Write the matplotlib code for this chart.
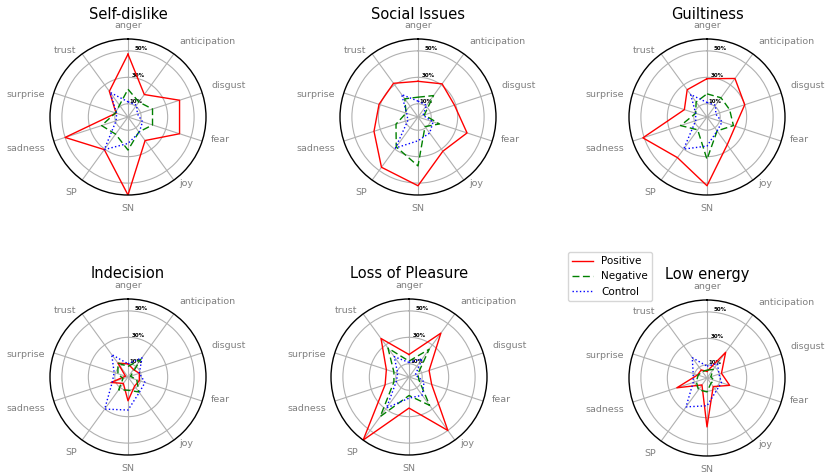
import numpy as np
import matplotlib
matplotlib.use("Agg")
import matplotlib.pyplot as plt
from matplotlib.lines import Line2D

emotions = ["anger", "anticipation", "disgust", "fear", "joy",
            "SN", "SP", "sadness", "surprise", "trust"]
symptoms = ["Self-dislike", "Social Issues", "Guiltiness",
            "Indecision", "Loss of Pleasure", "Low energy"]

# share of posts (%) per emotion, one row per symptom
positive = [
    [47.5, 21, 41, 41, 22, 59, 30.5, 50, 9.5, 24],
    [27, 31, 29, 39, 32, 52, 47, 35, 31, 31.5],
    [29, 36, 30, 22.5, 26, 52, 38, 51, 18, 25.5],
    [10, 7, 9, 9, 8.5, 18, 6, 13.5, 2, 13],
    [17, 41, 16, 18, 50, 23.5, 59, 19, 18, 36],
    [5, 24, 11.5, 18, 8, 37, 6.5, 24, 7.5, 7.5],
]
negative = [
    [21, 14, 19.5, 19.5, 14, 25, 16, 21, 10, 11],
    [15, 20, 5, 17, 9, 37, 28, 17.5, 9.5, 17],
    [17.5, 18, 18, 21, 13, 32, 12, 21, 9, 14],
    [8, 16.5, 2, 7, 14, 10, 12, 4, 8, 13],
    [12, 26, 7, 8, 26.5, 14, 37, 12, 12, 27],
    [6, 8, 3, 5.5, 5, 10.5, 11, 8.5, 7, 6],
]
control = [
    [11.5, 11, 7.5, 11.5, 14.5, 20, 30.5, 9.5, 9, 23],
    [12, 11, 4, 12, 15, 18, 29, 8, 9, 21],
    [11, 11, 7, 12, 13, 22, 30, 9, 9, 21],
    [10, 18, 9, 13.5, 14.5, 25, 30, 12.5, 11, 21],
    [11, 17, 5, 12, 17, 16, 29, 10, 9, 19],
    [9, 13.5, 9.5, 11.5, 12, 21, 27, 11, 11, 19],
]
rticks = [10, 30, 50]

W, H = 825, 476
fig = plt.figure(figsize=(W / 100, H / 100), dpi=100)

# panel centres in pixels, radius of each polar disc
centres = [(128, 117), (418, 117), (707, 117),
           (128, 377), (409, 377), (707, 378)]
R = 78

theta = np.linspace(0, 2 * np.pi, len(emotions), endpoint=False)
theta_c = np.append(theta, theta[0])
dashed = (0, (5, 2.5))

def closed(v):
    v = np.asarray(v) / 100.0
    return np.append(v, v[0])

for i, name in enumerate(symptoms):
    cx, cy = centres[i]
    ax = fig.add_axes([(cx - R) / W, (H - cy - R) / H, 2 * R / W, 2 * R / H],
                      projection="polar")
    ax.set_theta_offset(np.pi / 2)
    ax.set_theta_direction(-1)

    ax.plot(theta_c, closed(positive[i]), color="red", lw=1)
    ax.plot(theta_c, closed(negative[i]), color="green", lw=1, linestyle=dashed)
    ax.plot(theta_c, closed(control[i]), color="blue", lw=1, linestyle=":")

    ax.set_ylim(0, 0.59)
    ax.set_yticks([t / 100 for t in rticks])
    ax.set_yticklabels([f"{t}%" for t in rticks], fontsize=4,
                       fontweight="bold", color="black")
    ax.set_rlabel_position(6)

    # emotion names just outside the rim: right half hangs above its anchor,
    # left half below it
    ax.set_xticks(theta)
    ax.set_xticklabels([])
    for t, lab in zip(theta, emotions):
        sx, cy_ = np.sin(t), np.cos(t)
        ha = "left" if sx > 1e-6 else ("right" if sx < -1e-6 else "center")
        va = "bottom" if t < np.pi - 1e-6 else "top"
        ax.text(0.5 + 0.5 * 1.12 * sx, 0.5 + 0.5 * 1.12 * cy_, lab,
                transform=ax.transAxes, ha=ha, va=va, fontsize=6.8, color="grey")

    ax.grid(color="#b0b0b0", lw=0.8)
    ax.spines["polar"].set_color("black")
    ax.spines["polar"].set_linewidth(1)
    ax.set_title(name, fontsize=10.5, y=1.13 if i < 3 else 1.135, pad=0)

handles = [Line2D([], [], color="red", lw=1),
           Line2D([], [], color="green", lw=1, linestyle=dashed),
           Line2D([], [], color="blue", lw=1, linestyle=":")]
fig.legend(handles, ["Positive", "Negative", "Control"], fontsize=7.5,
           loc="upper left", bbox_to_anchor=(568 / W, 1 - 252 / H),
           borderaxespad=0)

fig.savefig("out.png", dpi=100)
